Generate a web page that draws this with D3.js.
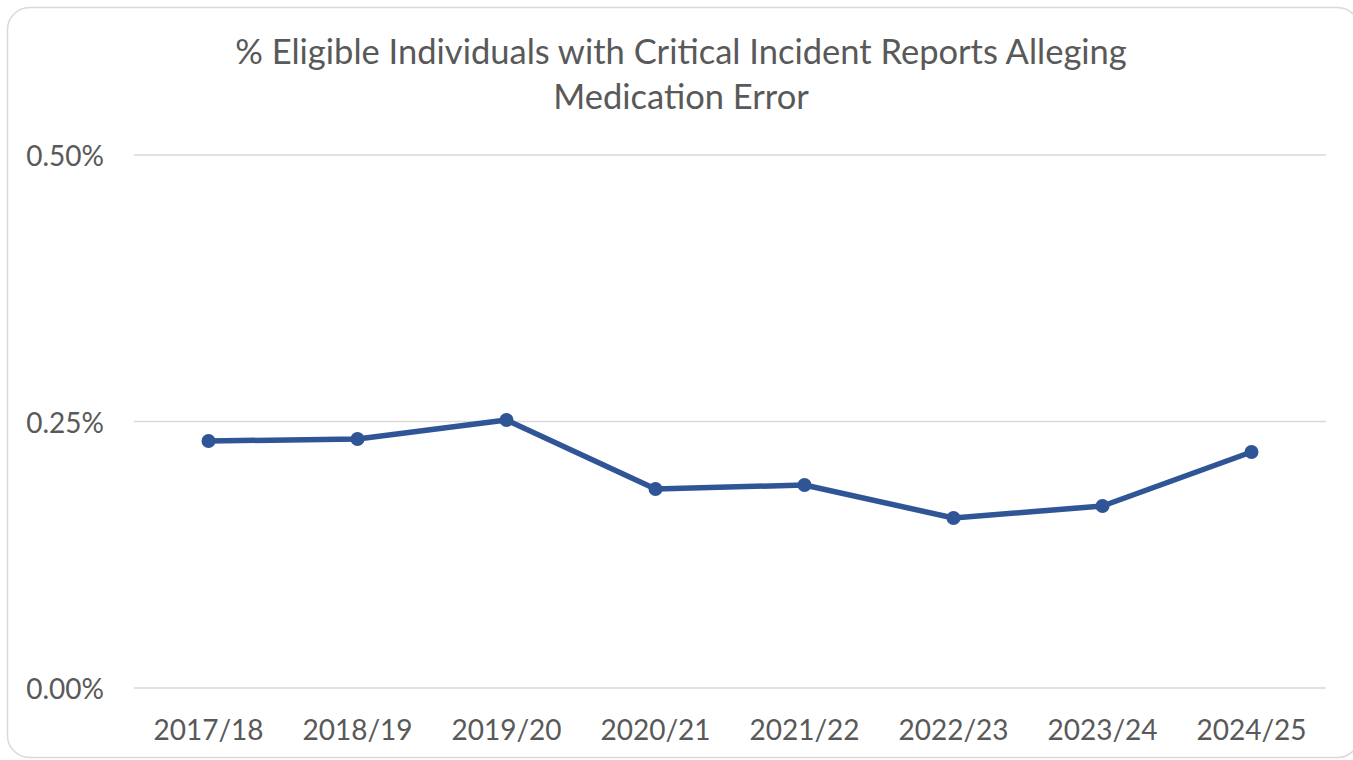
<!DOCTYPE html>
<html>
<head>
<meta charset="utf-8">
<script src="https://cdn.jsdelivr.net/npm/d3@7"></script>
<style>
  body { margin: 0; background: #fff; }
  text { font-family: Lato, "Open Sans", sans-serif; fill: #595959; }
</style>
</head>
<body>
<script>
var years = ["2017/18","2018/19","2019/20","2020/21","2021/22","2022/23","2023/24","2024/25"];
var pct = [0.2317, 0.2336, 0.2514, 0.1867, 0.1904, 0.1595, 0.1707, 0.2214];
var yTicks = [0, 0.25, 0.5];
var titleLines = ["% Eligible Individuals with Critical Incident Reports Alleging", "Medication Error"];

var W = 1353, H = 760;
var svg = d3.select("body").append("svg")
        .attr("width", W)
        .attr("height", H);

// chart border, rounded like the office chart frame
svg.append("rect")
        .attr("x", 7.5).attr("y", 7.5)
        .attr("width", 1352).attr("height", 750)
        .attr("rx", 22).attr("ry", 22)
        .attr("fill", "#fff")
        .attr("stroke", "#d9d9d9")
        .attr("stroke-width", 1.5);

svg.selectAll("text.title")
        .data(titleLines)
        .enter().append("text")
                .attr("class", "title")
                .attr("x", 681)
                .attr("y", function(d, i){ return 64 + i*45; })
                .attr("text-anchor", "middle")
                .attr("font-size", 34.5)
                .text(function(d){ return d; });

var x = d3.scaleBand().domain(years).range([134, 1326]);
var y = d3.scaleLinear().domain([0, 0.5]).range([688, 155]);

// gridlines
svg.selectAll("line.grid")
        .data(yTicks)
        .enter().append("line")
                .attr("x1", 134).attr("x2", 1326)
                .attr("y1", function(d){ return y(d); })
                .attr("y2", function(d){ return y(d); })
                .attr("stroke", "#d9d9d9")
                .attr("stroke-width", 1.5);

// y labels
svg.selectAll("text.ylab")
        .data(yTicks)
        .enter().append("text")
                .attr("x", 104)
                .attr("y", function(d){ return y(d) + 11; })
                .attr("text-anchor", "end")
                .attr("font-size", 28)
                .text(function(d){ return d.toFixed(2) + "%"; });

// x labels
svg.selectAll("text.xlab")
        .data(years)
        .enter().append("text")
                .attr("x", function(d){ return x(d) + x.bandwidth()/2; })
                .attr("y", 740)
                .attr("text-anchor", "middle")
                .attr("font-size", 28)
                .text(function(d){ return d; });

var line = d3.line()
        .x(function(d, i){ return x(years[i]) + x.bandwidth()/2; })
        .y(function(d){ return y(d); });

svg.append("path")
        .datum(pct)
        .attr("d", line)
        .attr("fill", "none")
        .attr("stroke", "#2f5597")
        .attr("stroke-width", 5.5)
        .attr("stroke-linejoin", "round");

svg.selectAll("circle")
        .data(pct)
        .enter().append("circle")
                .attr("cx", function(d, i){ return x(years[i]) + x.bandwidth()/2; })
                .attr("cy", function(d){ return y(d); })
                .attr("r", 7)
                .attr("fill", "#2f5597");
</script>
</body>
</html>
